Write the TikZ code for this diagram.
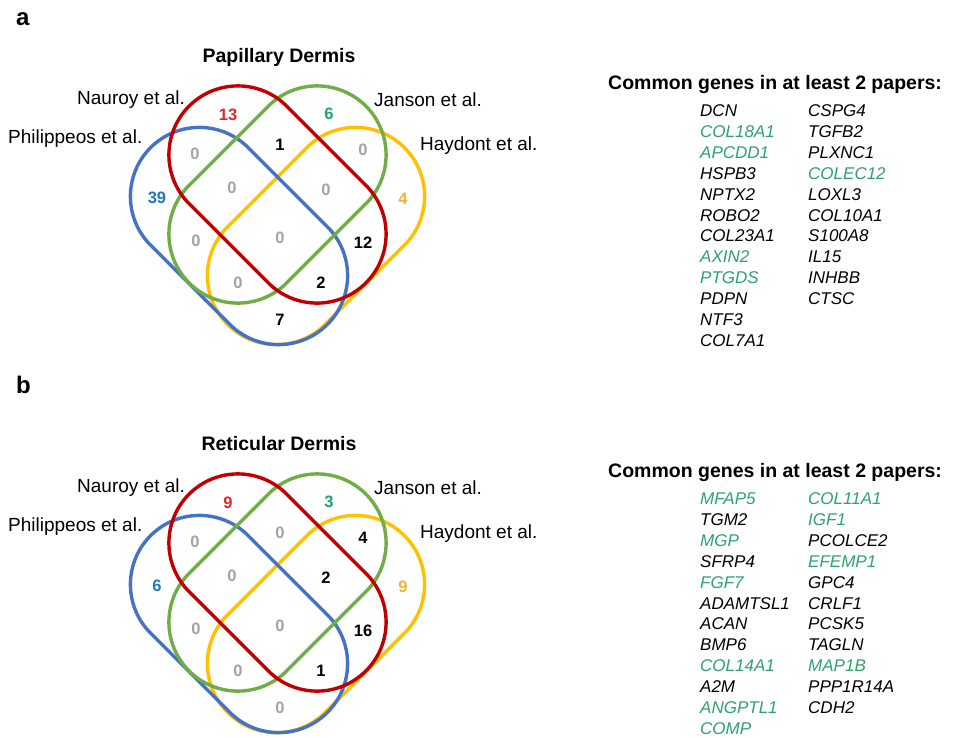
\documentclass[tikz,border=0pt]{standalone}
\usepackage{fontspec}
\setmainfont{Liberation Sans}
\definecolor{lblue}{HTML}{4472C4}
\definecolor{lred}{HTML}{C00000}
\definecolor{lgreen}{HTML}{70AD47}
\definecolor{lyellow}{HTML}{FFC000}
\definecolor{nred}{HTML}{E0262F}
\definecolor{ngreen}{HTML}{1FA172}
\definecolor{nblue}{HTML}{1F78BE}
\definecolor{nyellow}{HTML}{F2B233}
\definecolor{ngray}{HTML}{A3A3A3}
\definecolor{ggreen}{HTML}{2EA36E}
\tikzset{
  venn/.style={line width=3.4pt},
  lab/.style={anchor=base west, inner sep=0pt, font=\fontsize{19}{22}\selectfont},
  ttl/.style={anchor=base, inner sep=0pt, font=\bfseries\fontsize{19.5}{22}\selectfont},
  hdr/.style={anchor=base west, inner sep=0pt, font=\bfseries\fontsize{19.5}{22}\selectfont},
  num/.style={inner sep=0pt, font=\bfseries\fontsize{16.5}{18}\selectfont},
  gene/.style={anchor=base west, inner sep=0pt, font=\itshape\fontsize{17}{20}\selectfont},
  panel/.style={anchor=base west, inner sep=0pt, font=\bfseries\fontsize{24}{28}\selectfont},
}
\newcommand\vennshape[4]{%
  \begin{scope}[shift={(#2,#3)}, rotate=#4]
    \draw[venn,#1] (-56,-69) -- (56,-69) arc[start angle=-90,end angle=90,radius=69]
      -- (-56,69) arc[start angle=90,end angle=270,radius=69] -- cycle;
  \end{scope}}
\begin{document}
\begin{tikzpicture}[x=1pt,y=1pt]
\path[use as bounding box, fill=white] (0,0) rectangle (953,-737);

% ---------------- panel a ----------------
\node[panel] (pa) at (16,-25) {a};
\node[ttl] (ta) at (279,-62.5) {Papillary Dermis};
\vennshape{lyellow}{316}{-236}{45}
\vennshape{lblue}{239}{-236}{-45}
\vennshape{lgreen}{277.5}{-194.5}{45}
\vennshape{lred}{277.5}{-194.5}{-45}
\node[lab] (na) at (77,-104) {Nauroy et al.};
\node[lab] (pha) at (8,-143) {Philippeos et al.};
\node[lab] (ja) at (374,-106) {Janson et al.};
\node[lab] (ha) at (420,-150) {Haydont et al.};
\node[num, text=nred] (a1) at (228,-115) {13};
\node[num, text=ngreen] (a2) at (329,-114) {6};
\node[num, text=ngray] (a3) at (195,-154) {0};
\node[num] (a4) at (280,-145) {1};
\node[num, text=ngray] (a5) at (363,-150) {0};
\node[num, text=nblue] (a6) at (157,-198) {39};
\node[num, text=ngray] (a7) at (232,-188) {0};
\node[num, text=ngray] (a8) at (326,-190) {0};
\node[num, text=nyellow] (a9) at (403,-199) {4};
\node[num, text=ngray] (a10) at (196,-241) {0};
\node[num, text=ngray] (a11) at (280,-238) {0};
\node[num] (a12) at (363,-243) {12};
\node[num, text=ngray] (a13) at (238,-283) {0};
\node[num] (a14) at (321,-283) {2};
\node[num] (a15) at (280,-320) {7};

\node[hdr] (ca) at (608,-89.3) {Common genes in at least 2 papers:};
\foreach \g/\c [count=\i from 0] in {DCN/black, COL18A1/ggreen, APCDD1/ggreen, HSPB3/black, NPTX2/black, ROBO2/black, COL23A1/black, AXIN2/ggreen, PTGDS/ggreen, PDPN/black, NTF3/black, COL7A1/black}
  \node[gene, text=\c] (ga1\i) at (700,{-116.5-20.9*\i}) {\g};
\foreach \g/\c [count=\i from 0] in {CSPG4/black, TGFB2/black, PLXNC1/black, COLEC12/ggreen, LOXL3/black, COL10A1/black, S100A8/black, IL15/black, INHBB/black, CTSC/black}
  \node[gene, text=\c] (ga2\i) at (808,{-116.5-20.9*\i}) {\g};

% ---------------- panel b ----------------
\node[panel] (pb) at (16,-393) {b};
\node[ttl] (tb) at (279,-450.5) {Reticular Dermis};
\vennshape{lyellow}{316}{-624}{45}
\vennshape{lblue}{239}{-624}{-45}
\vennshape{lgreen}{277.5}{-582.5}{45}
\vennshape{lred}{277.5}{-582.5}{-45}
\node[lab] (nb) at (77,-492) {Nauroy et al.};
\node[lab] (phb) at (8,-531) {Philippeos et al.};
\node[lab] (jb) at (374,-494) {Janson et al.};
\node[lab] (hb) at (420,-538) {Haydont et al.};
\node[num, text=nred] (b1) at (228,-503) {9};
\node[num, text=ngreen] (b2) at (329,-502) {3};
\node[num, text=ngray] (b3) at (195,-542) {0};
\node[num, text=ngray] (b4) at (280,-533) {0};
\node[num] (b5) at (363,-538) {4};
\node[num, text=nblue] (b6) at (157,-586) {6};
\node[num, text=ngray] (b7) at (232,-576) {0};
\node[num] (b8) at (326,-578) {2};
\node[num, text=nyellow] (b9) at (403,-587) {9};
\node[num, text=ngray] (b10) at (196,-629) {0};
\node[num, text=ngray] (b11) at (280,-626) {0};
\node[num] (b12) at (363,-631) {16};
\node[num, text=ngray] (b13) at (238,-671) {0};
\node[num] (b14) at (321,-671) {1};
\node[num, text=ngray] (b15) at (280,-708) {0};

\node[hdr] (cb) at (608,-477.3) {Common genes in at least 2 papers:};
\foreach \g/\c [count=\i from 0] in {MFAP5/ggreen, TGM2/black, MGP/ggreen, SFRP4/black, FGF7/ggreen, ADAMTSL1/black, ACAN/black, BMP6/black, COL14A1/ggreen, A2M/black, ANGPTL1/ggreen, COMP/ggreen}
  \node[gene, text=\c] (gb1\i) at (700,{-504.5-20.9*\i}) {\g};
\foreach \g/\c [count=\i from 0] in {COL11A1/ggreen, IGF1/ggreen, PCOLCE2/black, EFEMP1/ggreen, GPC4/black, CRLF1/black, PCSK5/black, TAGLN/black, MAP1B/ggreen, PPP1R14A/black, CDH2/black}
  \node[gene, text=\c] (gb2\i) at (808,{-504.5-20.9*\i}) {\g};
\end{tikzpicture}
\end{document}
